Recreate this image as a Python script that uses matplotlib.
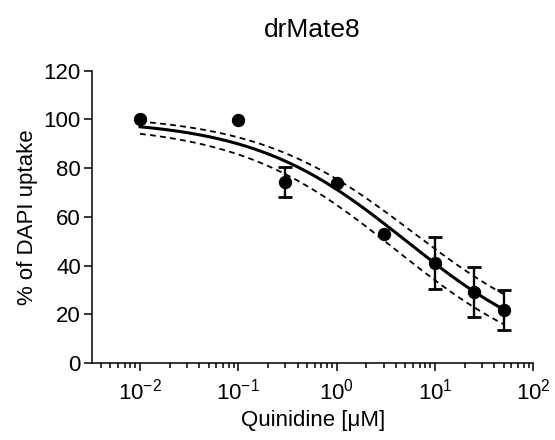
import numpy as np
import matplotlib
matplotlib.use("Agg")
import matplotlib.pyplot as plt
from matplotlib.ticker import LogLocator, LogFormatterSciNotation, NullFormatter, FixedLocator

plt.rcParams['font.family'] = ['Liberation Sans', 'DejaVu Sans']
plt.rcParams['mathtext.fontset'] = 'custom'
plt.rcParams['mathtext.rm'] = 'Liberation Sans'
plt.rcParams['mathtext.it'] = 'Liberation Sans:italic'

# Quinidine concentrations (uM) and DAPI uptake (% of control), mean +/- SEM
conc = [0.01, 0.1, 0.3, 1.0, 3.0, 10.0, 25.0, 50.0]
uptake = [100.0, 99.6, 74.2, 73.7, 52.9, 41.0, 29.1, 21.8]
sem = [0.0, 0.0, 6.2, 0.0, 0.0, 10.7, 10.2, 8.3]

# Fitted dose-response curve: bottom, top, log IC50, Hill slope
fit_params = dict(bottom=0.0, top=100.0, log_ic50=0.71, hill=0.556)
# Confidence band limits
upper_params = dict(bottom=5.0, top=102.0, log_ic50=0.78, hill=0.545)
lower_params = dict(bottom=-5.0, top=98.0, log_ic50=0.60, hill=0.54)

title = "drMate8"
xlabel = "Quinidine [\u03bcM]"
ylabel = "% of DAPI uptake"
yticks = [0, 20, 40, 60, 80, 100, 120]


def dose_response(x, bottom, top, log_ic50, hill):
    return bottom + (top - bottom) / (1.0 + 10 ** (hill * (np.log10(x) - log_ic50)))


fig = plt.figure(figsize=(5.55, 4.4), dpi=100)
ax = fig.add_axes([92 / 555, 77 / 440, 441.3 / 555, 292.3 / 440])

xs = np.logspace(np.log10(min(conc)), np.log10(max(conc)), 300)
ax.plot(xs, dose_response(xs, **fit_params), color='black', lw=2.2, zorder=3)
for p in (upper_params, lower_params):
    ax.plot(xs, dose_response(xs, **p), color='black', lw=1.3,
            linestyle=(0, (3.2, 2.4)), zorder=2)

conc_a = np.array(conc)
up_a = np.array(uptake)
sem_a = np.array(sem)
has_err = sem_a > 0
ax.errorbar(conc_a[has_err], up_a[has_err], yerr=sem_a[has_err], fmt='none',
            ecolor='black', elinewidth=1.7, capsize=5.3, capthick=2.0, zorder=4,
            clip_on=False)
ax.plot(conc_a, up_a, 'o', color='black', ms=8.6, zorder=5, clip_on=False)

ax.set_xscale('log')
ax.set_xlim(10 ** -2.488, 100)
ax.set_ylim(0, 120)
ax.yaxis.set_major_locator(FixedLocator(yticks))
ax.xaxis.set_major_locator(LogLocator(base=10, numticks=10))
ax.xaxis.set_major_formatter(LogFormatterSciNotation())
ax.xaxis.set_minor_locator(LogLocator(base=10, subs=np.arange(2, 10), numticks=20))
ax.xaxis.set_minor_formatter(NullFormatter())

for s in ('top', 'right'):
    ax.spines[s].set_visible(False)
for s in ('left', 'bottom'):
    ax.spines[s].set_linewidth(1.1)

ax.tick_params(axis='both', which='major', direction='out', length=6, width=1.1,
               labelsize=16, pad=2)
ax.tick_params(axis='x', which='major', pad=5)
ax.tick_params(axis='x', which='minor', direction='out', length=3.5, width=1.1)

ax.set_title(title, fontsize=19, pad=24)
ax.set_xlabel(xlabel, fontsize=16, labelpad=4)
ax.set_ylabel(ylabel, fontsize=16, labelpad=4)

fig.savefig("out.png", dpi=100)
